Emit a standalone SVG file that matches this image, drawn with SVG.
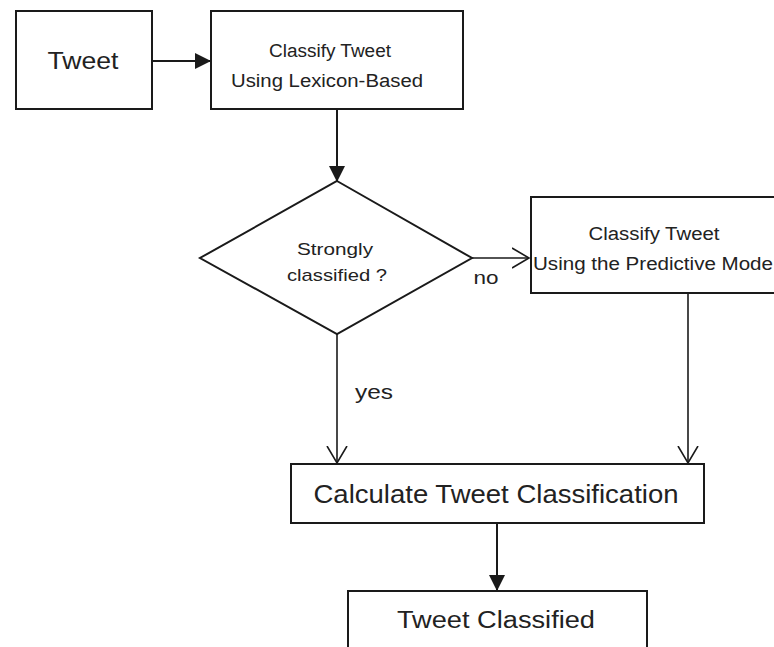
<svg xmlns="http://www.w3.org/2000/svg" width="774" height="647" viewBox="0 0 774 647">
<defs>
<style>
.box{fill:#fff;stroke:#1a1a1a;stroke-width:2}
.t{font-family:"Liberation Sans",Arial,sans-serif;fill:#222;text-anchor:middle}
.ln{fill:none;stroke:#1a1a1a;stroke-width:2}
.lo{fill:none;stroke:#1a1a1a;stroke-width:1.6}
</style>
<marker id="fill" markerWidth="16" markerHeight="18" viewBox="0 0 16 18" refX="15" refY="9" orient="auto" markerUnits="userSpaceOnUse">
<path d="M0,1 L16,9 L0,17 Z" fill="#1a1a1a"/>
</marker>
<marker id="open" markerWidth="20" markerHeight="24" viewBox="0 0 20 24" refX="17" refY="12" orient="auto" markerUnits="userSpaceOnUse">
<path d="M0,2 L17,12 L0,22" fill="none" stroke="#1a1a1a" stroke-width="1.6"/>
</marker>
</defs>
<rect width="774" height="647" fill="#fff"/>
<g id="connectors">
<path class="ln" d="M152,61 L210,61" marker-end="url(#fill)"/>
<path class="ln" d="M337,109 L337,181" marker-end="url(#fill)"/>
<path class="lo" d="M472,258 L529,258" marker-end="url(#open)"/>
<path class="lo" d="M337,334 L337,463" marker-end="url(#open)"/>
<path class="lo" d="M688,293 L688,463" marker-end="url(#open)"/>
<path class="ln" d="M497,523 L497,590" marker-end="url(#fill)"/>
<text class="t" x="486" y="284" font-size="19" textLength="25" lengthAdjust="spacingAndGlyphs">no</text>
<text class="t" x="374" y="399" font-size="20" textLength="38" lengthAdjust="spacingAndGlyphs">yes</text>
</g>
<g id="tweet">
<rect class="box" x="16" y="11" width="136" height="98"/>
<text class="t" x="83" y="69" font-size="23" textLength="71" lengthAdjust="spacingAndGlyphs">Tweet</text>
</g>
<g id="lexicon">
<rect class="box" x="211" y="11" width="252" height="98"/>
<text class="t" x="330" y="57" font-size="18" textLength="122" lengthAdjust="spacingAndGlyphs">Classify Tweet</text>
<text class="t" x="327" y="87" font-size="18" textLength="192" lengthAdjust="spacingAndGlyphs">Using Lexicon-Based</text>
</g>
<g id="decision">
<polygon class="box" points="337,181 472,258 337,334 200,258"/>
<text class="t" x="335" y="255" font-size="17" textLength="76" lengthAdjust="spacingAndGlyphs">Strongly</text>
<text class="t" x="337" y="281" font-size="17" textLength="100" lengthAdjust="spacingAndGlyphs">classified ?</text>
</g>
<g id="predictive">
<rect class="box" x="531" y="197" width="260" height="96"/>
<text class="t" x="654" y="240" font-size="18" textLength="131" lengthAdjust="spacingAndGlyphs">Classify Tweet</text>
<text class="t" x="653" y="270" font-size="18" textLength="240" lengthAdjust="spacingAndGlyphs">Using the Predictive Mode</text>
</g>
<g id="calculate">
<rect class="box" x="291" y="464" width="413" height="59"/>
<text class="t" x="496" y="503" font-size="25" textLength="365" lengthAdjust="spacingAndGlyphs">Calculate Tweet Classification</text>
</g>
<g id="classified">
<rect class="box" x="348" y="591" width="299" height="70"/>
<text class="t" x="496" y="628" font-size="23" textLength="198" lengthAdjust="spacingAndGlyphs">Tweet Classified</text>
</g>
</svg>
